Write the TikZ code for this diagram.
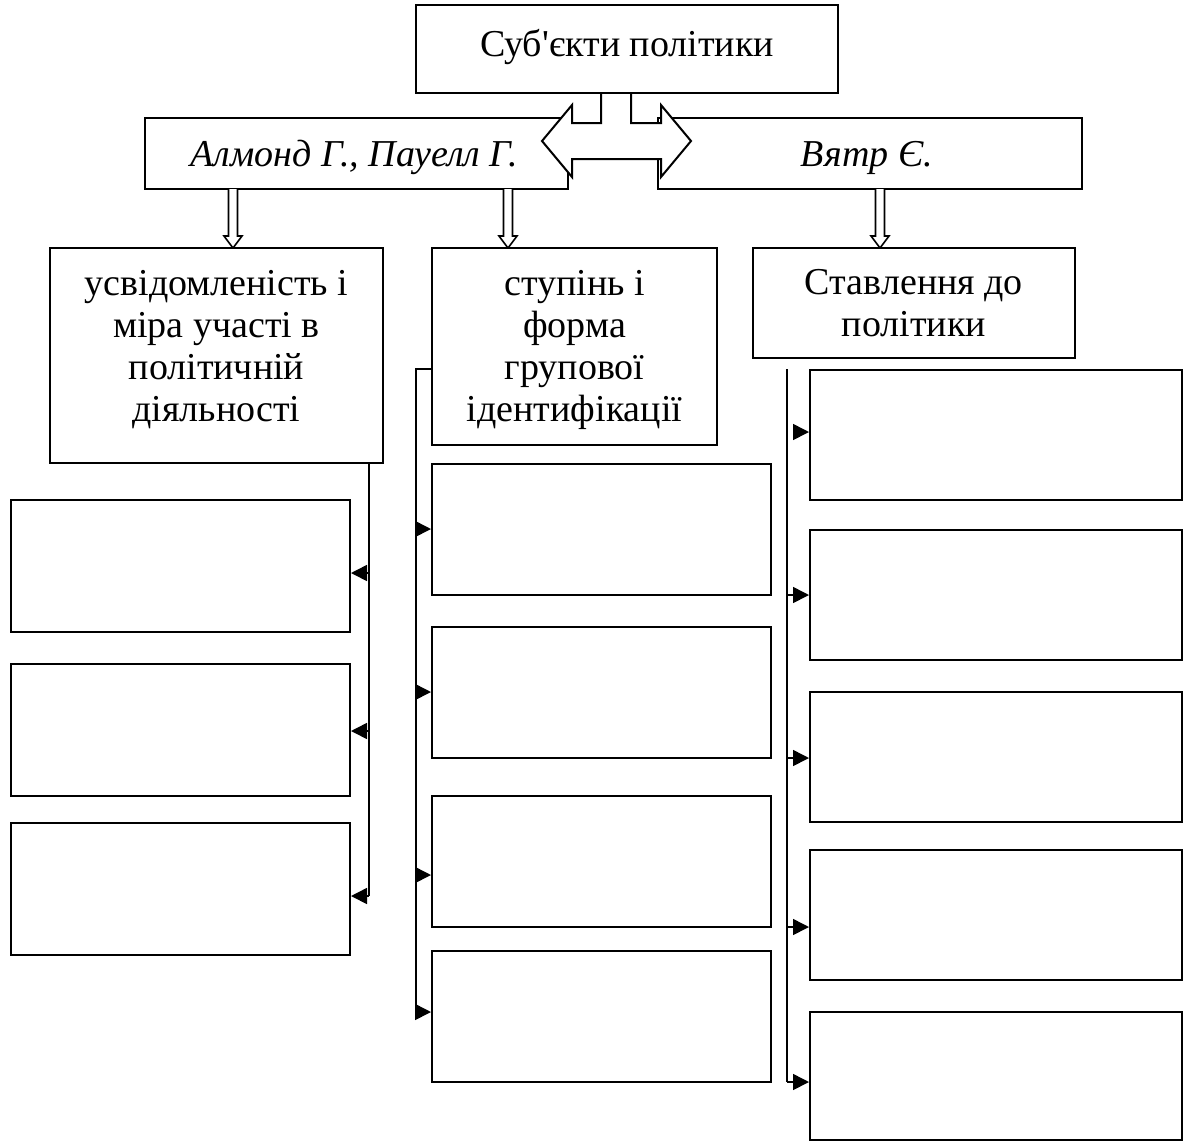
\documentclass[tikz,border=0pt]{standalone}
\usepackage{fontspec}
\setmainfont{Liberation Serif}[Ligatures=TeXOff]
\usetikzlibrary{arrows.meta}
\begin{document}
\begin{tikzpicture}[x=0.5pt,y=-0.5pt,
  box/.style={draw, line width=1pt, inner sep=0pt, fill=white},
  lbl/.style={font=\fontsize{19}{21}\selectfont, align=center, inner sep=0pt},
  conn/.style={line width=0.8pt},
  arr/.style={line width=0.8pt, -{Triangle[length=8pt,width=8pt]}},
  hollowdown/.pic={\draw[line width=0.8pt, fill=white, line join=miter]
      (-4.5,0) -- (-4.5,47) -- (-9,47) -- (0,59) -- (9,47) -- (4.5,47) -- (4.5,0);}
  ]
\useasboundingbox (0,0) rectangle (1184,1142);

% second row boxes (beneath the double arrow)
\node[box, minimum width=211.5pt, minimum height=35.5pt] (almond) at (356.5,153.5) {};
\node[box, minimum width=212pt, minimum height=35.5pt] (vyatr) at (870,153.5) {};
\node[lbl, font=\fontsize{19}{21}\selectfont\itshape] (almondt) at ([xshift=-1pt,yshift=-2pt]almond.center) {Алмонд Г., Пауелл Г.};
\node[lbl, font=\fontsize{19}{21}\selectfont\itshape] (vyatrt) at ([xshift=-1.5pt,yshift=-2pt]vyatr.center) {Вятр Є.};

% double arrow
\draw[line width=1pt, fill=white, line join=miter]
  (601,93) -- (601,123) -- (572,123) -- (572,105) -- (542,141) -- (572,177) -- (572,159)
  -- (661,159) -- (661,177) -- (691,141) -- (661,105) -- (661,123) -- (631,123) -- (631,93);

% top box
\node[box, minimum width=211pt, minimum height=44pt] (top) at (627,49) {};
\node[lbl] (topt) at ([yshift=1pt]top.center) {Суб'єкти політики};

% hollow arrows
\pic at (233,189) {hollowdown};
\pic at (508,189) {hollowdown};
\pic at (880,189) {hollowdown};

% third row
\node[box, minimum width=166.5pt, minimum height=107.5pt] (A) at (216.5,355.5) {};
\node[box, minimum width=142.5pt, minimum height=98.5pt] (B) at (574.5,346.5) {};
\node[box, minimum width=161pt, minimum height=55pt] (C) at (914,303) {};
\node[lbl, anchor=north] (At) at ([yshift=-11.5pt]A.north) {усвідомленість і\\міра участі в\\політичній\\діяльності};
\node[lbl, anchor=north] (Bt) at ([yshift=-11.5pt]B.north) {ступінь і\\форма\\групової\\ідентифікації};
\node[lbl, anchor=north] (Ct) at ([yshift=-11pt]C.north) {Ставлення до\\політики};

% left column
\node[box, minimum width=169.5pt, minimum height=66pt] (L1) at (180.5,566) {};
\node[box, minimum width=169.5pt, minimum height=66pt] (L2) at (180.5,730) {};
\node[box, minimum width=169.5pt, minimum height=66pt] (L3) at (180.5,889) {};

% middle column
\node[box, minimum width=169.5pt, minimum height=65.5pt] (M1) at (601.5,529.5) {};
\node[box, minimum width=169.5pt, minimum height=65.5pt] (M2) at (601.5,692.5) {};
\node[box, minimum width=169.5pt, minimum height=65.5pt] (M3) at (601.5,861.5) {};
\node[box, minimum width=169.5pt, minimum height=65.5pt] (M4) at (601.5,1016.5) {};

% right column
\node[box, minimum width=186pt, minimum height=65pt] (R1) at (996,435) {};
\node[box, minimum width=186pt, minimum height=65pt] (R2) at (996,594.5) {};
\node[box, minimum width=186pt, minimum height=65pt] (R3) at (996,756.5) {};
\node[box, minimum width=186pt, minimum height=65pt] (R4) at (996,914.5) {};
\node[box, minimum width=186pt, minimum height=64pt] (R5) at (996,1076) {};

% left connectors
\coordinate (l0) at (369,463);
\coordinate (l1) at (369,573);
\coordinate (l2) at (369,731);
\coordinate (l3) at (369,896);
\draw[conn] (l0) -- (l3);
\draw[arr] (l1) -- (l1 -| L1.east);
\draw[arr] (l2) -- (l2 -| L2.east);
\draw[arr] (l3) -- (l3 -| L3.east);

% middle connectors
\coordinate (m0) at (416,369);
\coordinate (m1) at (416,529);
\coordinate (m2) at (416,692);
\coordinate (m3) at (416,875);
\coordinate (m4) at (416,1012);
\draw[conn] (m0 -| B.west) -- (m0) -- (m4);
\draw[arr] (m1) -- (m1 -| M1.west);
\draw[arr] (m2) -- (m2 -| M2.west);
\draw[arr] (m3) -- (m3 -| M3.west);
\draw[arr] (m4) -- (m4 -| M4.west);

% right connectors
\coordinate (r0) at (787,369);
\coordinate (r1) at (793,432);
\coordinate (r2) at (787,595);
\coordinate (r3) at (787,758);
\coordinate (r4) at (787,927);
\coordinate (r5) at (787,1082);
\draw[conn] (r0) -- (r5);
\draw[arr] (r1) -- (r1 -| R1.west);
\draw[arr] (r2) -- (r2 -| R2.west);
\draw[arr] (r3) -- (r3 -| R3.west);
\draw[arr] (r4) -- (r4 -| R4.west);
\draw[arr] (r5) -- (r5 -| R5.west);
\end{tikzpicture}
\end{document}
